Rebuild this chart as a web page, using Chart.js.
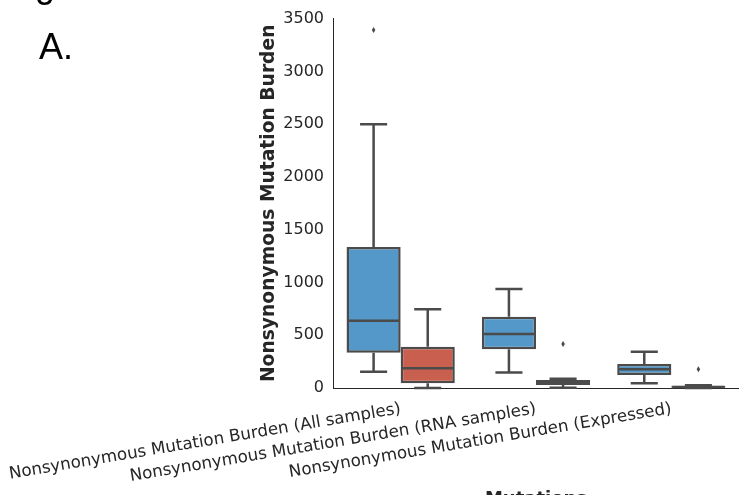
<!DOCTYPE html>
<html>
<head>
<meta charset="utf-8">
<script src="https://cdn.jsdelivr.net/npm/chart.js@4"></script>
<style>
  body { margin: 0; background: #fff; }
  #wrap { position: relative; width: 739px; height: 495px; overflow: hidden; }
  #boxChart { display: block; }
  .panel-text {
    position: absolute;
    font-family: "Liberation Sans", Arial, sans-serif;
    font-size: 36px;
    line-height: 36px;
    color: #000;
    white-space: nowrap;
  }
</style>
</head>
<body>
<div id="wrap">
  <canvas id="boxChart" width="739" height="495"></canvas>
  <div class="panel-text" style="left:5px; top:-33px;">Figure 3</div>
  <div class="panel-text" style="left:39px; top:29px;">A.</div>
</div>
<script>
// Categories on the x axis
const categories = [
    'Nonsynonymous Mutation Burden (All samples)',
    'Nonsynonymous Mutation Burden (RNA samples)',
    'Nonsynonymous Mutation Burden (Expressed)'
];

// Blue group box stats
const blueLow = [154, 148, 44];
const blueQ1 = [334, 366, 123];
const blueMedian = [637, 511, 177];
const blueQ3 = [1337, 675, 227];
const blueHigh = [2500, 937, 344];
const blueOutliers = [[3393], [], []];

// Red group box stats
const redLow = [0, 2, 0];
const redQ1 = [44, 28, 3];
const redMedian = [186, 58, 10];
const redQ3 = [391, 76, 22];
const redHigh = [745, 88, 26];
const redOutliers = [[], [416], [177]];

// Y axis ticks
const yTicks = [0, 500, 1000, 1500, 2000, 2500, 3000, 3500];

const EDGE = '#4b4b4b';
const TEXT = '#262626';

// Draw whiskers, caps, medians and fliers on top of the floating bars
const boxWhiskers = {
    id: 'boxWhiskers',
    afterDatasetsDraw(chart) {
        const ctx = chart.ctx;
        const yScale = chart.scales.y;
        chart.data.datasets.forEach((ds, i) => {
            const meta = chart.getDatasetMeta(i);
            const s = ds.stats;
            meta.data.forEach((bar, j) => {
                const cx = bar.x;
                const half = bar.width / 2;
                const py = v => yScale.getPixelForValue(v);
                ctx.save();
                ctx.strokeStyle = EDGE;
                ctx.lineWidth = 2.5;
                ctx.beginPath();
                // whiskers
                ctx.moveTo(cx, py(s.q3[j]));
                ctx.lineTo(cx, py(s.high[j]));
                ctx.moveTo(cx, py(s.q1[j]));
                ctx.lineTo(cx, py(s.low[j]));
                // caps
                ctx.moveTo(cx - half / 2, py(s.high[j]));
                ctx.lineTo(cx + half / 2, py(s.high[j]));
                ctx.moveTo(cx - half / 2, py(s.low[j]));
                ctx.lineTo(cx + half / 2, py(s.low[j]));
                // median
                ctx.moveTo(cx - half + 1, py(s.median[j]));
                ctx.lineTo(cx + half - 1, py(s.median[j]));
                ctx.stroke();
                // fliers as small diamonds
                ctx.fillStyle = EDGE;
                s.outliers[j].forEach(v => {
                    const oy = py(v);
                    ctx.beginPath();
                    ctx.moveTo(cx, oy - 3);
                    ctx.lineTo(cx + 1.8, oy);
                    ctx.lineTo(cx, oy + 3);
                    ctx.lineTo(cx - 1.8, oy);
                    ctx.closePath();
                    ctx.fill();
                });
                ctx.restore();
            });
        });
    }
};

const ctx = document.getElementById('boxChart').getContext('2d');

new Chart(ctx, {
    type: 'bar',
    data: {
        labels: categories,
        datasets: [{
            label: 'Blue',
            data: blueQ1.map((q1, i) => [q1, blueQ3[i]]),
            backgroundColor: '#5497c9',
            borderColor: EDGE,
            borderWidth: 2.5,
            borderSkipped: false,
            stats: { low: blueLow, q1: blueQ1, median: blueMedian, q3: blueQ3, high: blueHigh, outliers: blueOutliers }
        }, {
            label: 'Red',
            data: redQ1.map((q1, i) => [q1, redQ3[i]]),
            backgroundColor: '#c9604f',
            borderColor: EDGE,
            borderWidth: 2.5,
            borderSkipped: false,
            stats: { low: redLow, q1: redQ1, median: redMedian, q3: redQ3, high: redHigh, outliers: redOutliers }
        }]
    },
    options: {
        responsive: false,
        animation: false,
        layout: { padding: { top: 18, left: 0, right: 0, bottom: 0 } },
        datasets: { bar: { categoryPercentage: 0.8, barPercentage: 1.0 } },
        plugins: {
            legend: { display: false },
            tooltip: { enabled: false }
        },
        scales: {
            x: {
                grid: { display: false, drawTicks: false },
                border: { display: true, color: TEXT, width: 1 },
                ticks: {
                    autoSkip: false,
                    maxRotation: 9.5,
                    minRotation: 9.5,
                    padding: 11,
                    color: TEXT,
                    font: { family: 'DejaVu Sans', size: 16.7 }
                },
                title: {
                    display: true,
                    text: 'Mutations',
                    color: TEXT,
                    padding: { top: 0, bottom: -15 },
                    font: { family: 'DejaVu Sans', size: 18, weight: 'bold' }
                },
                afterFit(scale) {
                    scale.paddingLeft = 0;
                    scale.paddingRight = 0;
                    scale.height = 107;
                }
            },
            y: {
                min: 0,
                max: 3500,
                afterBuildTicks(scale) {
                    scale.ticks = yTicks.map(v => ({ value: v }));
                },
                grid: { display: false, drawTicks: false },
                border: { display: true, color: TEXT, width: 1 },
                ticks: {
                    padding: 9,
                    color: TEXT,
                    font: { family: 'DejaVu Sans', size: 16 },
                    callback: v => String(v)
                },
                title: {
                    display: true,
                    text: 'Nonsynonymous Mutation Burden',
                    color: TEXT,
                    padding: { top: 258, bottom: 0 },
                    font: { family: 'DejaVu Sans', size: 18.7, weight: 'bold' }
                },
                afterFit(scale) {
                    scale.width = 333;
                }
            }
        }
    },
    plugins: [boxWhiskers]
});
</script>
</body>
</html>
